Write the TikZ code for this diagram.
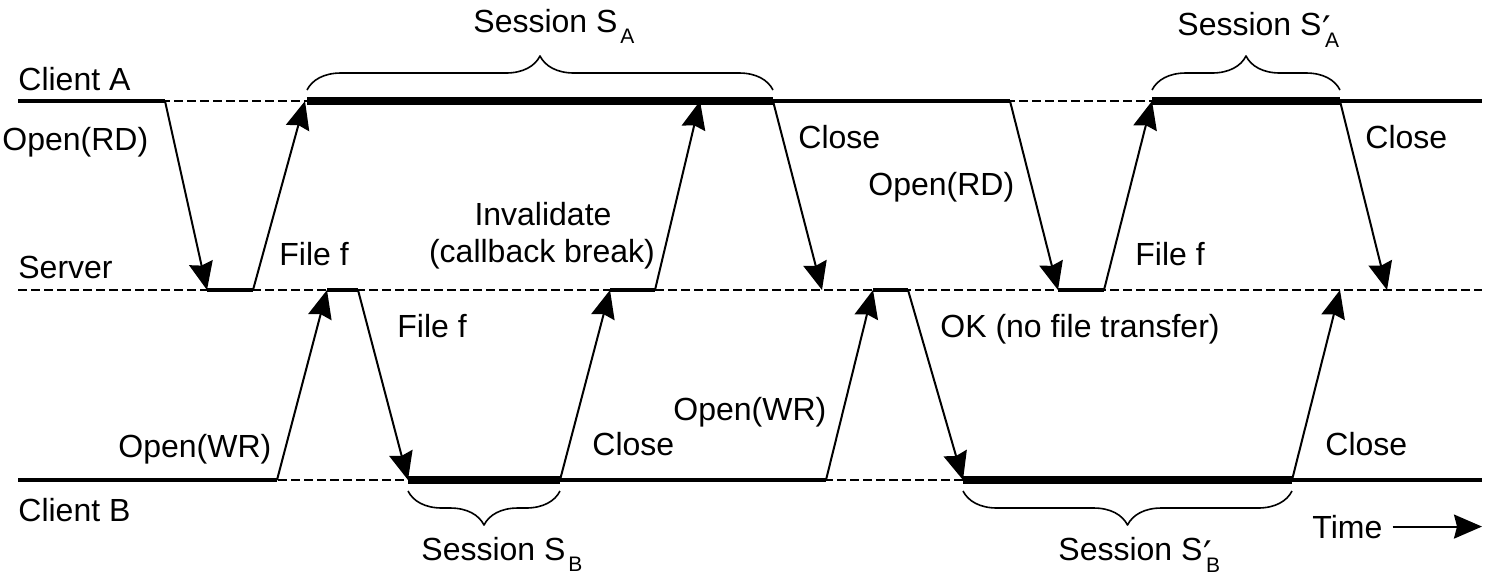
\documentclass[tikz,border=0pt]{standalone}
\usepackage{fontspec}
\setmainfont{Liberation Sans}
\newfontfamily\primefont{DejaVu Sans}
\usetikzlibrary{arrows.meta,decorations.pathreplacing}
\newcommand\subfont{\fontsize{10.5}{11}\selectfont}
\newcommand\plainsub[1]{\kern1.5pt\raisebox{-5.5pt}{\subfont #1}}
\newcommand\primesub[1]{\kern0.3pt\rlap{\raisebox{-4pt}{\fontsize{19}{19}\primefont ′}}\kern1.5pt\raisebox{-6pt}{\subfont #1}}
\tikzset{
	msg/.style={line width=1pt,-{Stealth[length=14pt,width=12pt,inset=1.5pt]}},
	idle/.style={line width=2pt},
	busy/.style={line width=4pt},
	wait/.style={line width=1pt,dash pattern=on 4.3pt off 2.2pt},
	lbl/.style={anchor=base west,inner sep=0pt,font=\fontsize{16}{19}\selectfont},
	sess/.style={decorate,decoration={brace,amplitude=17pt},line width=0.8pt},
}
\begin{document}
\begin{tikzpicture}[x=0.5pt,y=-0.5pt,line join=round]
		\useasboundingbox (0,0) rectangle (1488,580);
		\def\xmin{18}
		\def\xmax{1482}
		\def\ya{101}
		\def\ys{290}
		\def\yb{480}
		% events on the three time lines
		\foreach \n/\x in {a0/18,a1/165,a2/305,a3/700,a4/773,a5/1010,a6/1152,a7/1340,a8/1482}
			\coordinate (\n) at (\x,\ya);
		\foreach \n/\x in {s1/207,s2/253,s3/327,s4/358,s5/610,s6/655,s7/822,s8/873,s9/908,s10/1058,s11/1104,s12/1340,s13/1387}
			\coordinate (\n) at (\x,\ys);
		\foreach \n/\x in {b0/18,b1/277,b2/408,b3/560,b4/826,b5/963,b6/1292,b7/1482}
			\coordinate (\n) at (\x,\yb);
		% time lines
		\foreach \y in {\ya,\ys,\yb} \draw[wait] (\xmin,\y)--(\xmax,\y);
		\draw[idle] (a0)--(a1) (a4)--(a5) (a7)--(a8);
		\draw[busy] (307,\ya)--(a4) (a6)--(a7);
		\draw[idle] (s1)--(s2) (s3)--(s4) (s5)--(s6) (s8)--(s9) (s10)--(s11);
		\draw[idle] (b0)--(b1) (b3)--(b4) (b6)--(b7);
		\draw[busy] (b2)--(b3) (b5)--(b6);
		% messages
		\foreach \p/\q in {a1/s1,s2/a2,b1/s3,s4/b2,b3/s5,s6/a3,a4/s7,b4/s8,s9/b5,a5/s10,s11/a6,a7/s13,b6/s12}
			\draw[msg] (\p)--(\q);
		% sessions
		\draw[sess] (307,90)--(773,90);
		\draw[sess] (1152,90)--(1340,90);
		\draw[sess] (560,491)--(408,491);
		\draw[sess] (1292,491)--(963,491);
		% labels
		\node[lbl] (cla) at (18,90) {Client A};
		\node[lbl] (srv) at (18,278) {Server};
		\node[lbl] (clb) at (18,521) {Client B};
		\node[lbl] (ord1) at (2,150) {Open(RD)};
		\node[lbl] (ff1) at (279,265) {File f};
		\node[lbl] (ff2) at (397,337) {File f};
		\node[lbl] (owr1) at (118,457) {Open(WR)};
		\node[lbl,anchor=base] (inv1) at (543,225) {Invalidate};
		\node[lbl,anchor=base] (inv2) at (542,262) {(callback break)};
		\node[lbl] (cls1) at (798,148) {Close};
		\node[lbl] (cls2) at (592,455) {Close};
		\node[lbl] (ord2) at (868,195) {Open(RD)};
		\node[lbl] (owr2) at (673,420) {Open(WR)};
		\node[lbl] (ok) at (940,337) {OK (no file transfer)};
		\node[lbl] (ff3) at (1135,265) {File f};
		\node[lbl] (cls3) at (1365,148) {Close};
		\node[lbl] (cls4) at (1325,455) {Close};
		\node[lbl] (sesa) at (473,32) {Session S\plainsub{A}};
		\node[lbl] (sesa2) at (1177,35) {Session S\primesub{A}};
		\node[lbl] (sesb) at (421,560) {Session S\plainsub{B}};
		\node[lbl] (sesb2) at (1058,560) {Session S\primesub{B}};
		\node[lbl] (time) at (1312,538) {Time};
		\coordinate (tend) at (1482,527);
		\draw[msg] ([xshift=5pt]time.east)--(tend |- time.east);
	\end{tikzpicture}
\end{document}
